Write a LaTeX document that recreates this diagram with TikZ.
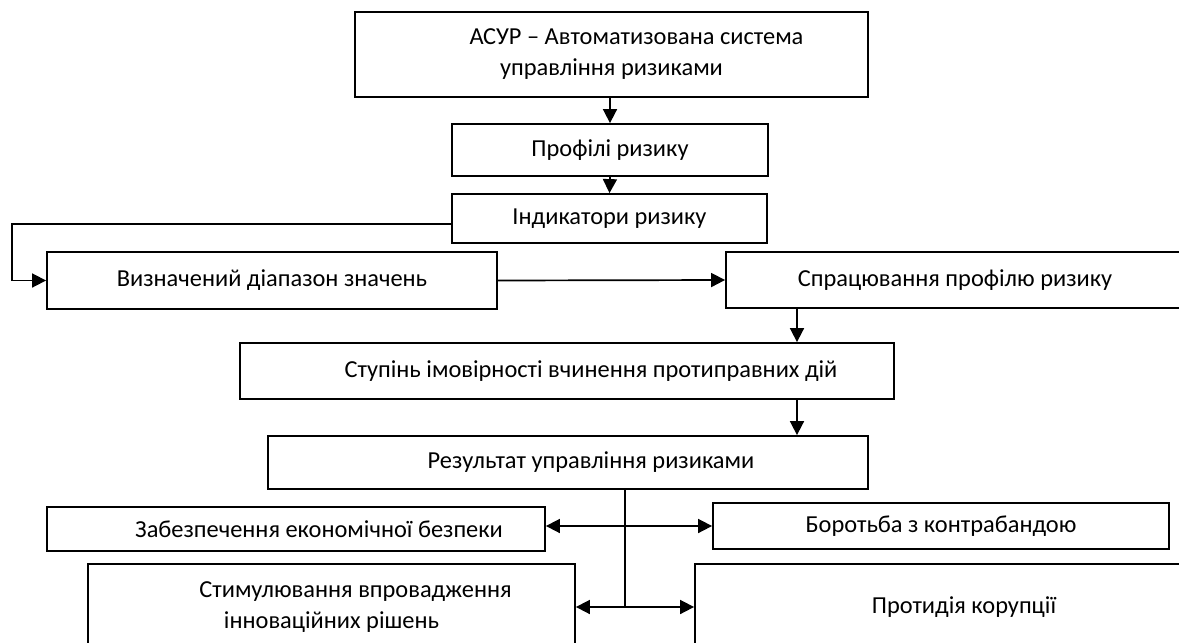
\documentclass[tikz,border=0pt]{standalone}
\usepackage{fontspec}
\setmainfont{Carlito}
\usepackage{tikz}
\usetikzlibrary{positioning, arrows, arrows.meta, shapes}
\tikzstyle{arrow} = [line width=0.85pt,-{Triangle[length=7pt,width=7pt]}]

\begin{document}
\begin{tikzpicture}[x=0.5pt,y=-0.5pt]
    \tikzstyle{every node}=[font=\fontsize{12.2}{15.5}\selectfont] \tikzstyle{blok} =
    [rectangle, draw=black, line width=0.9pt, inner sep=0pt, align=center]
    \tikzstyle{line} = [line width=0.85pt]

    \useasboundingbox (0,0) rectangle (1179,643);
    \clip (0,0) rectangle (1179,643);

    \node[blok, minimum width=256.5pt, minimum height=42.5pt](asur) at (611.5,54.5)
        {\hspace*{25pt}АСУР – Автоматизована система\\управління ризиками};
    \node[blok, minimum width=158pt, minimum height=26pt](profili) at (610,150) {Профілі ризику};
    \node[blok, minimum width=157.5pt, minimum height=24.5pt](indyk) at (609.5,218.5) {Індикатори ризику};
    \node[blok, minimum width=225pt, minimum height=28.5pt](diapazon) at (272,280.5) {Визначений діапазон значень};
    \node[blok, minimum width=229pt, minimum height=28pt](spratsyuv) at (955,280) {Спрацювання профілю ризику};
    \node[blok, minimum width=327pt, minimum height=28pt](stupin) at (567,371)
        {\hspace*{24pt}Ступінь імовірності вчинення протиправних дій};
    \node[blok, minimum width=300pt, minimum height=26.5pt](rezult) at (568,462.5)
        {\hspace*{23pt}Результат управління ризиками};
    \node[blok, minimum width=249pt, minimum height=22pt](ekonom) at (296,529)
        {\hspace*{23pt}Забезпечення економічної безпеки};
    \node[blok, minimum width=228pt, minimum height=23pt](kontrab) at (941,526) {Боротьба з контрабандою};
    \node[blok, minimum width=243.5pt, minimum height=43pt](innov) at (331.5,607)
        {\hspace*{24pt}Стимулювання впровадження\\інноваційних рішень};
    \node[blok, minimum width=269pt, minimum height=43pt](koruptsiya) at (964,607) {Протидія корупції};

    \coordinate (s1) at (797,0);
    \coordinate (vuzol) at (625,607);

    \draw[arrow] (profili.north |- asur.south) -- (profili.north);
    \draw[arrow] (profili.south) -- (indyk.north);
    \draw[arrow] ([yshift=-2.75pt]indyk.west) -- (12,224) |- (diapazon.west);
    \draw[arrow] (diapazon.east) -- (spratsyuv.west);
    \draw[arrow] (spratsyuv.south -| s1) -- (stupin.north -| s1);
    \draw[arrow] (stupin.south -| s1) -- (rezult.north -| s1);

    \draw[line] (rezult.south -| vuzol) -- (vuzol);
    \draw[arrow] (vuzol |- kontrab.west) -- (ekonom.east |- kontrab.west);
    \draw[arrow] (vuzol |- kontrab.west) -- (kontrab.west);
    \draw[arrow] (vuzol) -- (innov.east);
    \draw[arrow] (vuzol) -- (koruptsiya.west);
\end{tikzpicture}
\end{document}
